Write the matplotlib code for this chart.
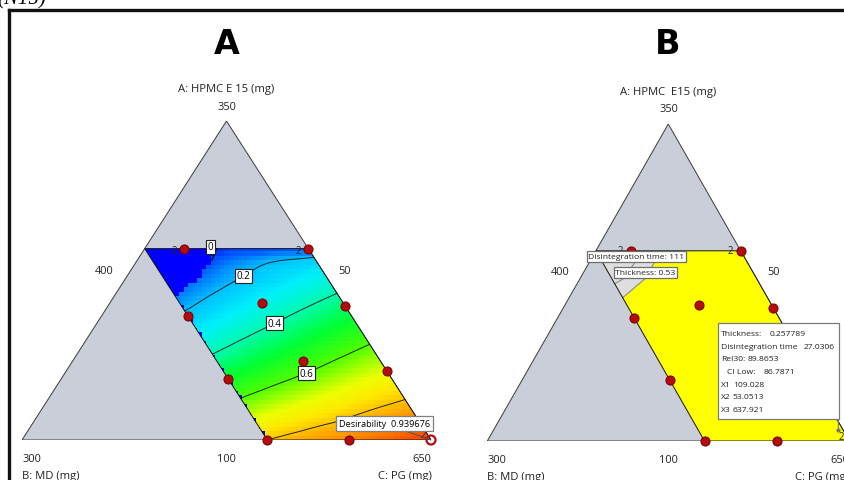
import numpy as np
import matplotlib
matplotlib.use('Agg')
import matplotlib.pyplot as plt
import matplotlib.tri as mtri
from matplotlib.colors import LinearSegmentedColormap, Normalize
from matplotlib.patches import Polygon, Rectangle
from matplotlib.path import Path
from matplotlib.lines import Line2D

plt.rcParams['font.family'] = ['Open Sans', 'DejaVu Sans']

# ---------------- data ----------------
total_mg = 800
A_min, B_min, C_min = 100, 50, 400          # lower limits (mg)
A_hi, B_hi = 250, 150                        # upper limits of design region (mg)
vertex_values = ['350', '300', '650']        # A, B, C vertices
edge_values = ['400', '50', '100']           # C on AB edge, B on AC edge, A on BC edge
titles_A = ['A: HPMC E 15 (mg)', 'B: MD (mg)', 'C: PG (mg)']
titles_B = ['A: HPMC  E15 (mg)', 'B: MD (mg)', 'C: PG (mg)']

# design points (mg) and replicate counts
design_A = [250, 250, 207, 205, 197, 162, 154, 148, 100, 100, 100]
design_B = [126, 50, 100, 50, 150, 97, 50, 150, 150, 100, 50]
design_reps = [2, 2, 1, 1, 1, 1, 1, 1, 1, 1, 2]

# desirability on a grid of A (mg) for each B (mg)
grid_A = [100, 125, 150, 175, 200, 225, 240, 250]
grid_B = [50, 75, 100, 125, 150]
desir_B50 = [0.94, 0.83, 0.716, 0.60, 0.479, 0.342, 0.24, 0.10]
desir_B75 = [0.90, 0.793, 0.668, 0.544, 0.419, 0.28, 0.20, 0.08]
desir_B100 = [0.87, 0.747, 0.613, 0.485, 0.354, 0.219, 0.14, 0.06]
desir_B125 = [0.84, 0.70, 0.559, 0.424, 0.285, 0.144, 0.05, 0.02]
desir_B150 = [0.80, 0.646, 0.50, 0.355, 0.206, 0.07, 0.0, 0.0]
contour_levels = [0.2, 0.4, 0.6, 0.8]
labelled_levels = [0.2, 0.4, 0.6]

# criteria limit lines (mg): disintegration time = 111, thickness = 0.53
dt_limit_A = [213, 228, 241, 250]
dt_limit_B = [150, 127, 114, 106]
thick_limit_A = [224, 228.5, 241, 250]
thick_limit_B = [150, 141, 127.5, 120]

# optimum flags
flagA_A, flagA_B, flagA_value = 100, 50, 0.939676
opt_A, opt_B, opt_C = 109.028, 53.0513, 637.921
opt_thickness, opt_dt, opt_rel30, opt_cilow = 0.257789, 27.0306, 89.8653, 86.7871

pseudo_range = total_mg - A_min - B_min - C_min

# ---------------- helpers ----------------
W, H = 845, 481
fig = plt.figure(figsize=(W / 100, H / 100), dpi=100)
fig.patch.set_facecolor('white')


def fx(x):
    return x / W


def fy(y):
    return 1 - y / H


def tern(A, B):
    A = np.asarray(A, float)
    B = np.asarray(B, float)
    a = (A - A_min) / pseudo_range
    b = (B - B_min) / pseudo_range
    c = 1 - a - b
    return 0.5 * a + c, a


def ab(A, B):
    return (np.asarray(A, float) - A_min) / pseudo_range, (np.asarray(B, float) - B_min) / pseudo_range


TRI_COLOR = '#c9ced9'
EDGE = '#3a3a3a'
PT_FACE = '#b50d0d'
PT_EDGE = '#7a0000'

# frame lines and cut-off caption
fig.add_artist(Line2D([fx(9.5), fx(9.5)], [fy(11), 0], color='#111111', lw=2.4))
fig.add_artist(Line2D([fx(9.5), 1.0], [fy(11), fy(11)], color='#111111', lw=2.4))
fig.text(fx(-3), fy(4), '(N15)', fontsize=15, family='Liberation Serif', style='italic',
         ha='left', va='baseline')

# region corners (mg)
reg_A = [A_hi, A_hi, A_min, A_min]
reg_B = [B_hi, B_min, B_min, B_hi]


def base_triangle(ax):
    tri = Polygon([[0.5, 1], [0, 0], [1, 0]], closed=True, facecolor=TRI_COLOR,
                  edgecolor=EDGE, lw=0.7, zorder=1)
    ax.add_patch(tri)
    rx, ry = tern(reg_A, reg_B)
    return np.column_stack([rx, ry])


def draw_points(ax, label_offsets, hollow_idx=()):
    px, py = tern(design_A, design_B)
    for i, (x, y) in enumerate(zip(px, py)):
        hollow = i in hollow_idx
        ax.scatter([x], [y], s=42, facecolor=('none' if hollow else PT_FACE),
                   edgecolor=(PT_FACE if hollow else PT_EDGE), linewidths=(1.6 if hollow else 0.8),
                   zorder=6, clip_on=False)
        if design_reps[i] > 1:
            off = label_offsets.get(i, (-10, -2))
            ax.annotate(str(design_reps[i]), (x, y), xytext=off, textcoords='offset pixels',
                        fontsize=7, color='#222222', ha='center', va='center', zorder=7,
                        annotation_clip=False)


# ================= Panel A =================
axA = fig.add_axes([fx(22), fy(441), 409 / W, 319 / H])
axA.set_xlim(0, 1)
axA.set_ylim(0, 1)
axA.axis('off')
region_xy = base_triangle(axA)

# desirability field
GA, GB = np.meshgrid(grid_A, grid_B)
Dgrid = np.array([desir_B50, desir_B75, desir_B100, desir_B125, desir_B150])
gx, gy = tern(GA.ravel(), GB.ravel())
tri = mtri.Triangulation(gx, gy)
interp = mtri.CubicTriInterpolator(tri, Dgrid.ravel(), kind='geom')

anchors = [(0.00, (0, 0, 255)), (0.10, (0, 90, 255)), (0.20, (0, 190, 255)),
           (0.30, (0, 240, 250)), (0.40, (0, 250, 175)), (0.50, (0, 255, 50)),
           (0.60, (80, 255, 0)), (0.70, (235, 255, 0)), (0.76, (255, 232, 0)),
           (0.85, (255, 150, 0)), (0.94, (255, 55, 0))]
cmap = LinearSegmentedColormap.from_list('des', [(v / 0.94, tuple(c / 255 for c in col))
                                                  for v, col in anchors])
norm = Normalize(0, 0.94)

nx, ny = 91, 71
xe = np.linspace(0, 1, nx + 1)
ye = np.linspace(0, 1, ny + 1)
XC, YC = np.meshgrid(0.5 * (xe[:-1] + xe[1:]), 0.5 * (ye[:-1] + ye[1:]))
a_c = YC
b_c = 1 - 0.5 * a_c - XC
a_hi = (A_hi - A_min) / pseudo_range
b_hi = (B_hi - B_min) / pseudo_range
ae = np.clip(a_c, 1e-6, a_hi - 1e-6)
be = np.clip(b_c, 1e-6, b_hi - 1e-6)
Z = interp(1 - 0.5 * ae - be, ae)
Z = np.ma.filled(Z, 0.0)
Z = np.clip(Z, 0, None)
Z[b_c > b_hi] = 0
la, lb = ab(dt_limit_A, dt_limit_B)
fail_poly = list(zip(la, lb)) + [(a_hi + 0.2, lb[-1]), (a_hi + 0.2, b_hi + 0.2), (la[0], b_hi + 0.2)]
inside_fail = Path(fail_poly).contains_points(np.column_stack([a_c.ravel(), b_c.ravel()])).reshape(a_c.shape)
Z[inside_fail] = 0

clipA = Polygon(region_xy, closed=True, facecolor='none', edgecolor='none', zorder=2)
axA.add_patch(clipA)
mesh = axA.pcolormesh(xe, ye, Z, cmap=cmap, norm=norm, shading='flat', zorder=2)
mesh.set_clip_path(clipA)
axA.add_patch(Polygon(region_xy, closed=True, facecolor='none', edgecolor='#111111', lw=0.7, zorder=4))

refiner = mtri.UniformTriRefiner(tri)
tri_r, z_r = refiner.refine_field(Dgrid.ravel(), interp, subdiv=4)
cs = axA.tricontour(tri_r, z_r, levels=contour_levels, colors='#1a1a1a', linewidths=0.65, zorder=3)

box_kw = dict(boxstyle='square,pad=0.15', facecolor='white', edgecolor='#222222', lw=0.8)
for lev, path in zip(contour_levels, cs.get_paths()):
    if lev not in labelled_levels:
        continue
    v = path.vertices
    if len(v) == 0:
        continue
    bb = 1 - 0.5 * v[:, 1] - v[:, 0]
    k = np.argmin(np.abs(bb - 0.2))
    axA.text(v[k, 0], v[k, 1], f'{lev:g}', fontsize=7, ha='center', va='center', bbox=box_kw, zorder=5)

# zero-desirability label at top of the limit line
zx, zy = tern(dt_limit_A[-1], dt_limit_B[-1])
axA.annotate('', (zx, zy), xytext=(-5, -12), textcoords='offset pixels',
             arrowprops=dict(arrowstyle='-', color='#111111', lw=0.9, shrinkA=0, shrinkB=0), zorder=5)
axA.annotate('0', (zx, zy), xytext=(-6, 2), textcoords='offset pixels', fontsize=7,
             ha='center', va='center', bbox=box_kw, zorder=6)

draw_points(axA, {0: (-10, -2), 1: (-10, -2), 10: (-8, 5)}, hollow_idx=(10,))

# desirability flag
fxA, fyA = tern(flagA_A, flagA_B)
axA.annotate(f'Desirability  {flagA_value:.6f}', (fxA, fyA), xytext=(-1, 12), textcoords='offset pixels',
             ha='right', va='bottom', fontsize=6.6,
             bbox=dict(boxstyle='square,pad=0.3', facecolor='white', edgecolor='#7f7f7f', lw=0.9),
             arrowprops=dict(arrowstyle='-', color='#555555', lw=0.8, shrinkA=0, shrinkB=0),
             zorder=8, annotation_clip=False)

# ================= Panel B =================
axB = fig.add_axes([fx(487.3), fy(442), 362 / W, 317 / H])
axB.set_xlim(0, 1)
axB.set_ylim(0, 1)
axB.axis('off')
region_xyB = base_triangle(axB)
axB.add_patch(Polygon(region_xyB, closed=True, facecolor='#ffff00', edgecolor='none', zorder=2))
dtx, dty = tern(dt_limit_A, dt_limit_B)
cx, cy = tern(A_hi, B_hi)
axB.add_patch(Polygon(np.column_stack([np.append(dtx, cx), np.append(dty, cy)]), closed=True,
                      facecolor='#dedede', edgecolor='none', zorder=3))
axB.plot(dtx, dty, color='#8a8a8a', lw=0.8, zorder=4)
thx, thy = tern(thick_limit_A, thick_limit_B)
axB.plot(thx, thy, color='#8a8a8a', lw=0.8, zorder=4)
axB.add_patch(Polygon(region_xyB, closed=True, facecolor='none', edgecolor='#111111', lw=0.7, zorder=4))
draw_points(axB, {0: (-10, 0), 1: (-10, 0), 10: (-8, 5)})

okx, oky = tern(opt_A, opt_B)
axB.annotate('', (okx, oky), xytext=(0, 11), textcoords='offset pixels',
             arrowprops=dict(arrowstyle='-', color='#777777', lw=0.8, shrinkA=0, shrinkB=0), zorder=8)
axB.plot([okx], [oky], 'o', ms=2, color='#777777', zorder=8)

# ================= Texts =================
def ftext(x, y, s, **kw):
    kw.setdefault('fontsize', 8.1)
    kw.setdefault('color', '#222222')
    kw.setdefault('ha', 'center')
    kw.setdefault('va', 'center')
    return fig.text(fx(x), fy(y), s, **kw)


for (cxp, title, tri_px) in [
        (226.5, titles_A, (22, 431.7, 89.5, 107.5, 104, 345, 226.8, 460, 477, 271.7)),
        (668.5, titles_B, (487.3, 849.3, 92, 110, 560, 773.7, 668.7, 461, 478, 272.7))]:
    left, right, yt, yv, x400, x50, x100, yb, ybt, yedge = tri_px
    ftext(cxp, yt, title[0])
    ftext(cxp, yv, vertex_values[0], fontsize=7.9)
    ftext(x400, yedge, edge_values[0], fontsize=7.9)
    ftext(x50, yedge, edge_values[1], fontsize=7.9)
    ftext(x100, yb, edge_values[2], fontsize=7.9)
    ftext(left, yb, vertex_values[1], ha='left', fontsize=7.9)
    ftext(left, ybt, title[1], ha='left')
    ftext(right, yb, vertex_values[2], ha='right', fontsize=7.9)
    ftext(right, ybt, title[2], ha='right')

ftext(226.5, 45, 'A', fontsize=24, family='DejaVu Sans', weight='heavy', color='black')
ftext(667.5, 45, 'B', fontsize=24, family='DejaVu Sans', weight='heavy', color='black')

lab_box = dict(boxstyle='square,pad=0.2', facecolor='white', edgecolor='#6f6f6f', lw=0.9)
ftext(636.3, 257.5, 'Disintegration time: 111', fontsize=6.1, bbox=lab_box)
ftext(645.5, 273.5, 'Thickness: 0.53', fontsize=6.1, bbox=lab_box)

fig.add_artist(Rectangle((fx(717.7), fy(420)), 121 / W, 96.3 / H, transform=fig.transFigure,
                         facecolor='white', edgecolor='#7a7a7a', lw=0.9, zorder=9))
tip_lines = [('Thickness:', f'{opt_thickness:.6f}', 721, 770),
             ('Disintegration time', f'{opt_dt:.4f}', 721, 803.3),
             ('Rel30:', f'{opt_rel30:.4f}', 721, 747.7),
             ('CI Low:', f'{opt_cilow:.4f}', 727, 763.7),
             ('X1', f'{opt_A:.3f}', 721, 732.7),
             ('X2', f'{opt_B:.4f}', 721, 732.7),
             ('X3', f'{opt_C:.3f}', 721, 732.7)]
for i, (lab, val, xl, xv) in enumerate(tip_lines):
    yy = 334.7 + 12.6 * i
    fig.text(fx(xl), fy(yy), lab, fontsize=6.1, ha='left', va='center', color='#222222', zorder=10)
    fig.text(fx(xv), fy(yy), val, fontsize=6.1, ha='left', va='center', color='#222222', zorder=10)

fig.savefig('out.png', dpi=100, facecolor='white')
